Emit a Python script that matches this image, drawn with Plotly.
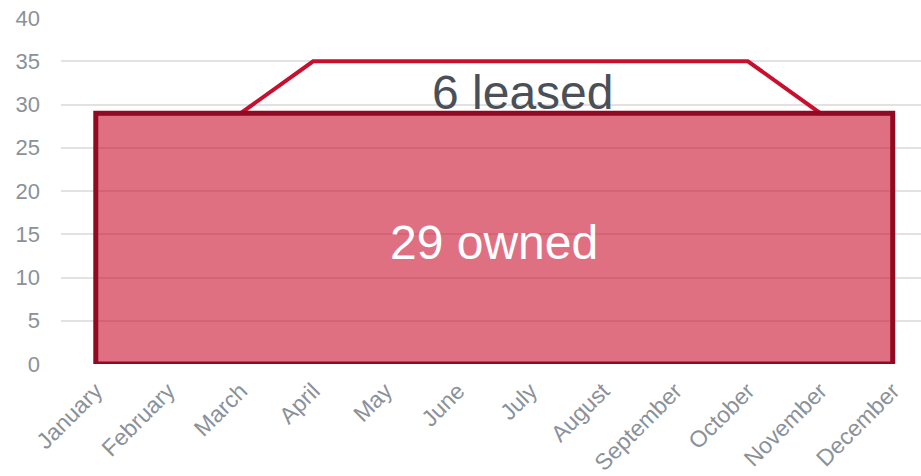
import plotly.graph_objects as go

months = ["January", "February", "March", "April", "May", "June", "July",
          "August", "September", "October", "November", "December"]
owned = [29, 29, 29, 29, 29, 29, 29, 29, 29, 29, 29, 29]
total = [29, 29, 29, 35, 35, 35, 35, 35, 35, 35, 29, 29]
leased_label = "6 leased"
owned_label = "29 owned"

fig = go.Figure()

# total (owned + leased) line, drawn beneath
fig.add_trace(go.Scatter(
    x=months, y=total, mode="lines",
    line=dict(color="#c8102e", width=4),
    hoverinfo="skip", showlegend=False,
))

# owned closed area
ox = [months[0]] + months + [months[-1], months[0]]
oy = [0] + owned + [0, 0]
fig.add_trace(go.Scatter(
    x=ox, y=oy, mode="lines", fill="toself",
    fillcolor="rgba(200,16,46,0.6)",
    line=dict(color="#910a21", width=5),
    hoverinfo="skip", showlegend=False,
))

fig.add_annotation(x=5.89, y=31.4, text=leased_label, showarrow=False,
                   font=dict(size=48, color="#4b5058", family="Liberation Sans, Arial"))
fig.add_annotation(x=5.5, y=14.0, text=owned_label, showarrow=False,
                   font=dict(size=48, color="#ffffff", family="Liberation Sans, Arial"))

fig.update_layout(
    width=921, height=476,
    margin=dict(l=61, r=0, t=18, b=112),
    paper_bgcolor="white", plot_bgcolor="white",
    font=dict(family="Liberation Sans, Arial", color="#8a9199", size=22),
)
fig.update_xaxes(
    type="category", categoryorder="array", categoryarray=months,
    range=[-0.48, 11.39], tickangle=-45, showgrid=False, zeroline=False,
    showline=False, ticks="", tickfont=dict(size=23, color="#8a9199"),
    ticklabelstandoff=8,
)
fig.update_yaxes(
    range=[0, 40], tickvals=[0, 5, 10, 15, 20, 25, 30, 35, 40],
    showgrid=True, gridcolor="#e2e2e2", gridwidth=1.5, zeroline=False,
    showline=False, ticks="", tickfont=dict(size=22, color="#8a9199"),
    ticklabelstandoff=20,
)

fig.write_html("out.html",
               config={"displayModeBar": False},
               post_script="document.body.style.margin='0';document.body.style.overflow='hidden';")
